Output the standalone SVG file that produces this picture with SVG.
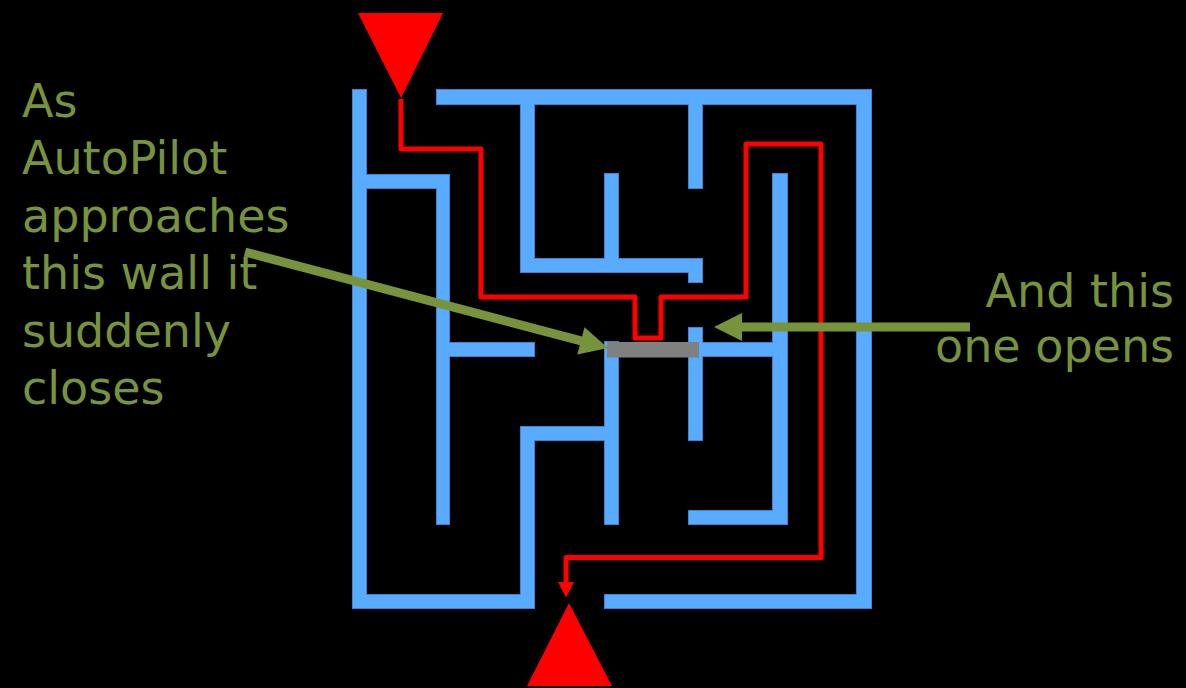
<svg xmlns="http://www.w3.org/2000/svg" xmlns:xlink="http://www.w3.org/1999/xlink" width="1186" height="688" viewBox="0 0 1186 688">
  <style>
    .label { font-family: "DejaVu Sans", "Verdana", sans-serif; font-size: 46px; fill: #77933c; }
    .wall-edge { fill: #3f84d2; stroke: #3f84d2; stroke-width: 2; }
    .wall-fill { fill: #59abff; }
    .route { fill: none; stroke: #ff0000; stroke-width: 5; stroke-linejoin: round; }
    .pointer { stroke: #77933c; stroke-width: 9; fill: none; }
  </style>
  <defs>
    <!-- maze walls, drawn once for the outline and once for the fill -->
    <g id="walls">
      <rect x="353" y="90" width="13" height="518"/>
      <rect x="353" y="595" width="181" height="13"/>
      <rect x="437" y="90" width="434" height="14"/>
      <rect x="857" y="90" width="14" height="518"/>
      <rect x="605" y="595" width="266" height="13"/>
      <rect x="353" y="175" width="96" height="13"/>
      <rect x="437" y="175" width="12" height="349"/>
      <rect x="449" y="343" width="85" height="13"/>
      <rect x="521" y="90" width="13" height="182"/>
      <rect x="521" y="259" width="181" height="13"/>
      <rect x="689" y="259" width="13" height="23"/>
      <rect x="605" y="174" width="13" height="98"/>
      <rect x="689" y="90" width="13" height="98"/>
      <rect x="773" y="174" width="14" height="350"/>
      <rect x="689" y="511" width="98" height="13"/>
      <rect x="689" y="328" width="13" height="112"/>
      <rect x="699" y="343" width="88" height="13"/>
      <rect x="605" y="342" width="13" height="182"/>
      <rect x="521" y="427" width="97" height="13"/>
      <rect x="521" y="427" width="13" height="181"/>
    </g>
  </defs>

  <rect width="1186" height="688" fill="#000000"/>

  <g id="maze">
    <use xlink:href="#walls" class="wall-edge"/>
    <use xlink:href="#walls" class="wall-fill"/>
  </g>

  <!-- wall segment that closes -->
  <g id="closing-wall">
    <rect x="607" y="342" width="92" height="15.5" fill="#808080"/>
  </g>

  <!-- entry and exit markers -->
  <g id="entry">
    <polygon points="358,13 443,13 401,98" fill="#ff0000"/>
  </g>
  <g id="exit">
    <polygon points="569,603 527,686 612,686" fill="#ff0000"/>
  </g>

  <g id="connectors">
    <!-- route taken through the maze -->
    <path class="route" d="M401,99 V149 H481 V297 H635 V338 H661 V297 H746 V144 H821 V557.5 H566 V584"/>
    <polygon points="558,582 574,582 566,597.5" fill="#ff0000"/>
    <!-- pointer to the closing wall -->
    <line class="pointer" x1="245" y1="252" x2="582" y2="341.1"/>
    <polygon points="608,348 584.5,327.3 577.3,354.4" fill="#77933c"/>
    <!-- pointer to the opening wall -->
    <line class="pointer" x1="970" y1="327" x2="740" y2="327"/>
    <polygon points="714,327 742,313 742,341" fill="#77933c"/>
  </g>

  <g id="caption-left">
    <text class="label" x="22" y="116.5">As</text>
    <text class="label" x="22" y="174">AutoPilot</text>
    <text class="label" x="22" y="231.5">approaches</text>
    <text class="label" x="22" y="289">this wall it</text>
    <text class="label" x="22" y="346.5">suddenly</text>
    <text class="label" x="22" y="404">closes</text>
  </g>
  <g id="caption-right">
    <text class="label" x="1174" y="307" text-anchor="end">And this</text>
    <text class="label" x="1174" y="362" text-anchor="end">one opens</text>
  </g>
</svg>
